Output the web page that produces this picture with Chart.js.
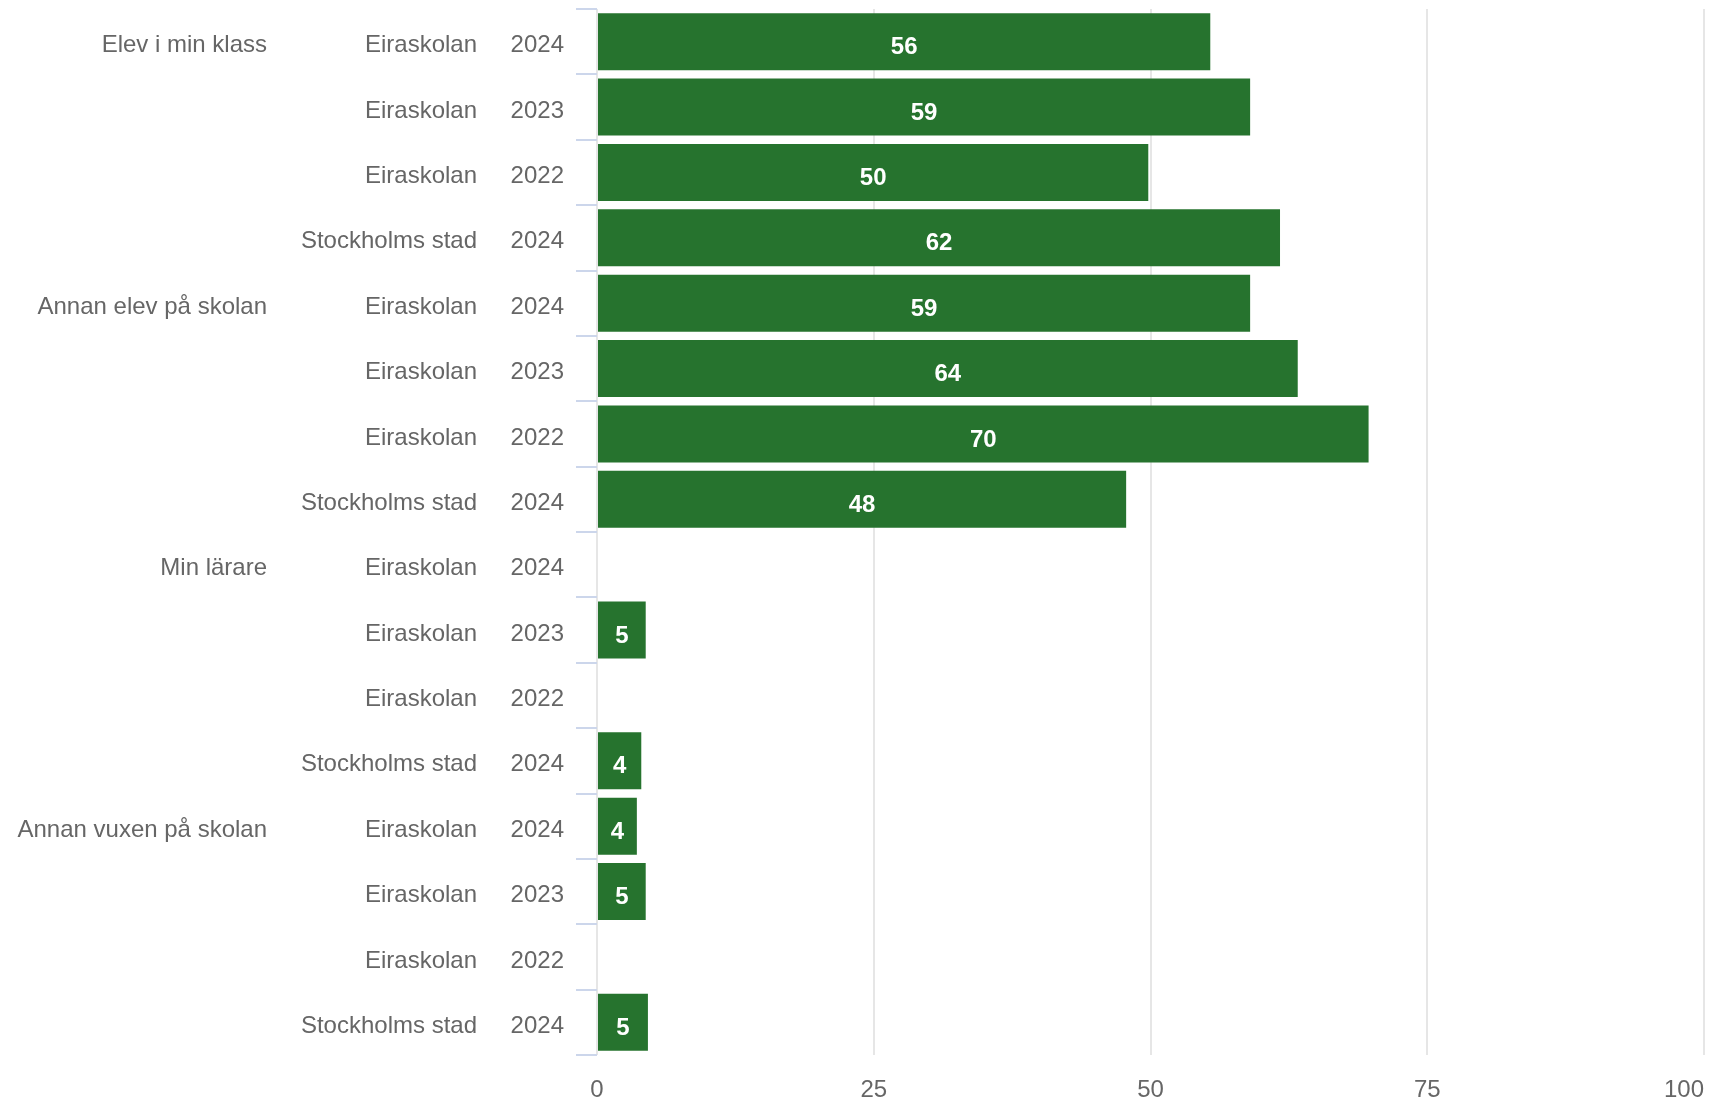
<!DOCTYPE html>
<html>
<head>
<meta charset="utf-8">
<script src="https://cdn.jsdelivr.net/npm/chart.js@4.4.1/dist/chart.umd.min.js"></script>
<style>
  html, body { margin: 0; padding: 0; background: #fff; }
  #wrap { width: 1709px; height: 1101px; position: relative; }
</style>
</head>
<body>
<div id="wrap"><canvas id="chart"></canvas></div>
<script>
'use strict'

// categories, one entry per row
var groupLabels = ['Elev i min klass', '', '', '',
                   'Annan elev på skolan', '', '', '',
                   'Min lärare', '', '', '',
                   'Annan vuxen på skolan', '', '', ''];
var schoolLabels = ['Eiraskolan', 'Eiraskolan', 'Eiraskolan', 'Stockholms stad',
                    'Eiraskolan', 'Eiraskolan', 'Eiraskolan', 'Stockholms stad',
                    'Eiraskolan', 'Eiraskolan', 'Eiraskolan', 'Stockholms stad',
                    'Eiraskolan', 'Eiraskolan', 'Eiraskolan', 'Stockholms stad'];
var yearLabels = ['2024', '2023', '2022', '2024',
                  '2024', '2023', '2022', '2024',
                  '2024', '2023', '2022', '2024',
                  '2024', '2023', '2022', '2024'];

var shares = [55.4, 59, 49.8, 61.7, 59, 63.3, 69.7, 47.8, null, 4.4, null, 4.0, 3.6, 4.4, null, 4.6];
var shownValues = ['56', '59', '50', '62', '59', '64', '70', '48', '', '5', '', '4', '4', '5', '', '5'];

var xTicks = [0, 25, 50, 75, 100];

var FONT = '"Liberation Sans", Arial, Helvetica, sans-serif';
var GREY = '#666666';

// draws the three label columns left of the plot and the value axis numbers
var axisLabels = {
  id: 'axisLabels',
  afterDraw: function(chart){
    var ctx = chart.ctx;
    var y = chart.scales.y;
    var x = chart.scales.x;
    var left = chart.chartArea.left;
    ctx.save();
    ctx.font = '24px ' + FONT;
    ctx.fillStyle = GREY;
    ctx.textAlign = 'right';
    ctx.textBaseline = 'middle';
    for (var i = 0; i < yearLabels.length; i++) {
      var py = y.getPixelForValue(i) + 4;
      ctx.fillText(yearLabels[i], left - 33, py);
      ctx.fillText(schoolLabels[i], left - 120, py);
      if (groupLabels[i]) ctx.fillText(groupLabels[i], left - 330, py);
    }
    // value axis, last label pushed inside like the original
    xTicks.forEach(function(v){
      var px = x.getPixelForValue(v);
      var w = ctx.measureText(String(v)).width;
      ctx.textAlign = (px + w / 2 > chart.width - 2) ? 'right' : 'center';
      ctx.fillText(String(v), ctx.textAlign === 'right' ? px : px, chart.chartArea.bottom + 35);
    });
    ctx.restore();
  }
};

// white numbers in the middle of each bar
var barValues = {
  id: 'barValues',
  afterDatasetsDraw: function(chart){
    var ctx = chart.ctx;
    var meta = chart.getDatasetMeta(0);
    ctx.save();
    ctx.font = 'bold 24px ' + FONT;
    ctx.fillStyle = '#ffffff';
    ctx.textAlign = 'center';
    ctx.textBaseline = 'middle';
    meta.data.forEach(function(bar, i){
      if (shares[i] == null || !shownValues[i]) return;
      ctx.fillText(shownValues[i], (bar.x + bar.base) / 2, bar.y + 6);
    });
    ctx.restore();
  }
};

var chart = new Chart(document.getElementById('chart'), {
  type: 'bar',
  data: {
    labels: yearLabels.map(function(y, i){ return schoolLabels[i] + ' ' + y; }),
    datasets: [{
      data: shares,
      backgroundColor: '#26732e',
      borderWidth: 0,
      barPercentage: 0.872,
      categoryPercentage: 1
    }]
  },
  options: {
    indexAxis: 'y',
    responsive: true,
    maintainAspectRatio: false,
    animation: false,
    layout: { padding: { top: 9, right: 5, bottom: 0, left: 0 } },
    plugins: {
      legend: { display: false },
      tooltip: { enabled: false }
    },
    scales: {
      x: {
        min: 0,
        max: 100,
        afterBuildTicks: function(scale){
          scale.ticks = xTicks.map(function(v){ return { value: v }; });
        },
        afterFit: function(scale){
          scale.height = 46;
          scale.paddingLeft = 0;
          scale.paddingRight = 0;
        },
        grid: { color: '#e6e6e6', lineWidth: 2, drawTicks: false },
        border: { display: false },
        ticks: { display: false }
      },
      y: {
        afterFit: function(scale){ scale.width = 597; },
        grid: {
          offset: true,
          drawOnChartArea: false,
          drawTicks: true,
          tickLength: 21,
          color: '#ccd6eb',
          lineWidth: 2
        },
        border: { display: false },
        ticks: { display: false }
      }
    }
  },
  plugins: [axisLabels, barValues]
});
</script>
</body>
</html>
